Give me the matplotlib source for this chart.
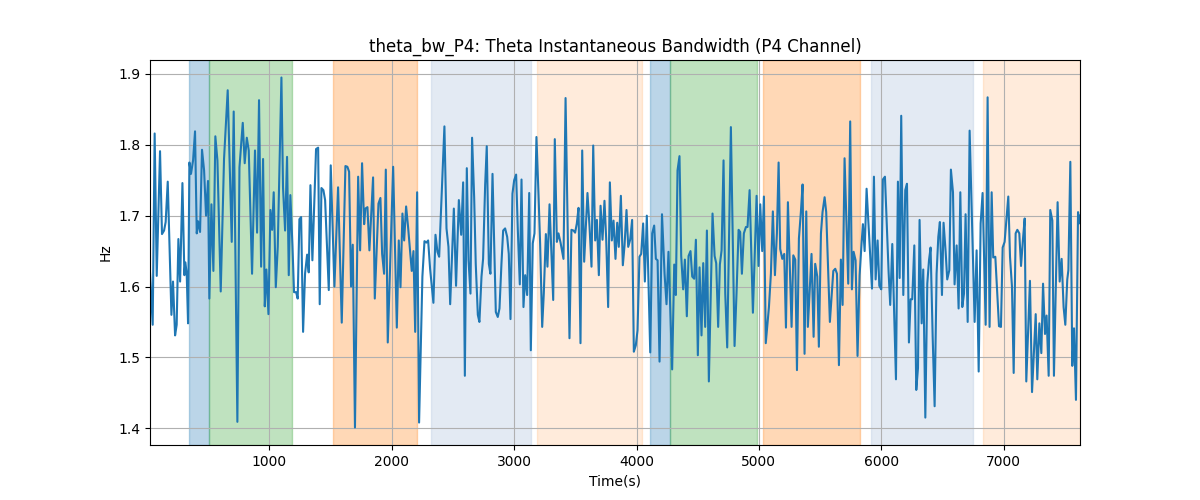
import numpy as np
import matplotlib
matplotlib.use("Agg")
import matplotlib.pyplot as plt

# time (s) of the turning points
time_s = [24, 46, 62, 79, 106, 122, 139, 152, 169, 199, 212, 229, 242, 256, 270, 289, 305, 313, 324, 335,
          346, 359, 376, 392, 406, 417, 433, 449, 466, 482, 498, 509, 526, 542, 558, 575, 602, 629, 659, 692,
          708, 738, 755, 782, 798, 815, 831, 858,
          882, 899, 915, 932, 948, 962, 975, 992, 1008, 1022, 1035, 1052, 1068, 1098, 1111, 1128, 1144, 1158,
          1171, 1188, 1201, 1218, 1231, 1245, 1259, 1275, 1291, 1308, 1321, 1335, 1351, 1381, 1398, 1411, 1425,
          1441, 1455, 1485, 1501, 1531, 1561, 1591, 1621, 1637, 1651, 1667, 1681, 1699,
          1725, 1741, 1757, 1774, 1784, 1801, 1817, 1847, 1861, 1891, 1907, 1921, 1937, 1951, 1967, 2011, 2041,
          2057, 2071, 2087, 2101, 2117, 2133, 2163, 2177, 2191, 2207, 2223, 2250, 2267, 2283, 2297, 2313, 2340,
          2357, 2373, 2387, 2430, 2447, 2463, 2477, 2507, 2525,
          2548, 2567, 2583, 2597, 2613, 2627, 2643, 2656, 2673, 2686, 2703, 2716, 2733, 2746, 2763, 2776, 2793,
          2806, 2823, 2850, 2866, 2880, 2896, 2910, 2926, 2943, 2956, 2970, 2986, 3000, 3016, 3030, 3046, 3060,
          3076, 3090, 3106, 3123, 3136, 3152, 3166, 3182, 3199, 3212, 3229, 3242, 3259, 3272, 3289, 3319, 3332,
          3349, 3362, 3379,
          3403, 3420, 3452, 3468, 3485, 3498, 3512, 3526, 3542, 3556, 3572, 3599, 3616, 3632, 3646, 3662, 3676,
          3692, 3706, 3722, 3738, 3752, 3768, 3782, 3798, 3812, 3828, 3842, 3855, 3872, 3888, 3902, 3918, 3932,
          3948, 3964, 3978, 3994, 4008, 4024, 4038, 4054, 4068, 4084, 4112, 4128, 4144, 4158, 4172, 4188, 4208,
          4229, 4245, 4261, 4278, 4291, 4308, 4321, 4335, 4351, 4365, 4381, 4395, 4411, 4425, 4441, 4455, 4471,
          4485, 4501, 4515, 4531, 4545, 4561, 4575, 4591, 4621, 4638, 4651, 4667, 4681, 4695, 4711, 4725, 4741,
          4771, 4801, 4817, 4834, 4847, 4861, 4877, 4894, 4907, 4924, 4951, 4981, 4997, 5011, 5027, 5041, 5056,
          5082, 5098, 5114, 5131, 5147, 5161, 5174, 5191, 5207, 5221, 5237, 5251, 5267, 5281, 5297, 5311, 5327,
          5343, 5357, 5373, 5387, 5400, 5430, 5447, 5460, 5477, 5490, 5507, 5520, 5537, 5550, 5580, 5608, 5624,
          5638, 5654, 5670, 5684, 5700, 5730, 5746, 5760, 5774, 5790, 5806, 5823, 5839, 5850, 5864, 5880,
          5924, 5940, 5954, 5970, 5984, 6000, 6013, 6030, 6060, 6073, 6090, 6120, 6136, 6150, 6163, 6180, 6196,
          6210, 6226, 6240, 6253, 6270, 6286, 6300, 6313, 6330, 6343, 6360, 6376, 6390, 6403, 6420, 6436, 6452,
          6466, 6479, 6496, 6509, 6526, 6539, 6556, 6569, 6586, 6599, 6616, 6632, 6646, 6662, 6676, 6689, 6706,
          6722,
          6763, 6779, 6796, 6812, 6828, 6853, 6869, 6885, 6902, 6915, 6932, 6962, 6978, 6992, 7008, 7038, 7052,
          7068, 7082, 7098, 7112, 7128, 7142, 7158, 7172, 7185, 7215, 7232, 7262, 7275, 7292, 7308, 7322, 7338,
          7351, 7368, 7381, 7398, 7411, 7441, 7458, 7474, 7490, 7504, 7520, 7529, 7545, 7561, 7575, 7591, 7608,
          7616, 7624]

bw_hz = [1.620, 1.546, 1.816, 1.615, 1.791, 1.674, 1.679, 1.691, 1.748, 1.560, 1.607, 1.531, 1.546, 1.667,
         1.607, 1.746, 1.616, 1.634, 1.618, 1.548, 1.775, 1.759, 1.778, 1.819, 1.675, 1.692, 1.677, 1.793,
         1.764, 1.700, 1.749, 1.583, 1.716, 1.622, 1.812, 1.778, 1.593, 1.780, 1.877, 1.663, 1.847, 1.409,
         1.768, 1.831, 1.774, 1.810, 1.792, 1.618,
         1.792, 1.676, 1.863, 1.628, 1.780, 1.572, 1.624, 1.561, 1.708, 1.680, 1.733, 1.599, 1.656, 1.895,
         1.740, 1.679, 1.783, 1.616, 1.729, 1.658, 1.592, 1.592, 1.583, 1.695, 1.698, 1.536, 1.618, 1.645,
         1.620, 1.743, 1.637, 1.794, 1.796, 1.575, 1.739, 1.736, 1.722, 1.595, 1.771, 1.600, 1.740, 1.549,
         1.770, 1.769, 1.762, 1.600, 1.659, 1.401,
         1.755, 1.651, 1.774, 1.688, 1.710, 1.712, 1.651, 1.754, 1.583, 1.717, 1.725, 1.646, 1.618, 1.765,
         1.521, 1.769, 1.542, 1.665, 1.599, 1.703, 1.665, 1.713, 1.684, 1.622, 1.650, 1.536, 1.733, 1.408,
         1.614, 1.664, 1.662, 1.665, 1.625, 1.577, 1.673, 1.649, 1.642, 1.826, 1.682, 1.656, 1.575, 1.710,
         1.601,
         1.722, 1.673, 1.747, 1.474, 1.767, 1.637, 1.590, 1.810, 1.726, 1.632, 1.560, 1.550, 1.614, 1.639,
         1.744, 1.798, 1.632, 1.618, 1.759, 1.564, 1.557, 1.569, 1.632, 1.679, 1.682, 1.670, 1.646, 1.554,
         1.731, 1.750, 1.758, 1.679, 1.603, 1.751, 1.571, 1.616, 1.588, 1.732, 1.510, 1.661, 1.675, 1.811,
         1.729, 1.661, 1.543, 1.590, 1.674, 1.628, 1.716, 1.581, 1.808, 1.663, 1.675, 1.662,
         1.639, 1.866, 1.527, 1.680, 1.679, 1.676, 1.689, 1.711, 1.520, 1.792, 1.635, 1.732, 1.684, 1.628,
         1.799, 1.665, 1.694, 1.616, 1.714, 1.666, 1.721, 1.667, 1.571, 1.747, 1.665, 1.693, 1.639, 1.690,
         1.656, 1.728, 1.630, 1.658, 1.708, 1.656, 1.666, 1.694, 1.508, 1.517, 1.538, 1.642, 1.646, 1.689,
         1.607, 1.700, 1.507, 1.675, 1.686, 1.639, 1.637, 1.494, 1.702,
         1.618, 1.575, 1.649, 1.553, 1.483, 1.631, 1.588, 1.764, 1.784, 1.643, 1.596, 1.638, 1.558, 1.643,
         1.650, 1.614, 1.611, 1.666, 1.503, 1.627, 1.531, 1.633, 1.543, 1.679, 1.466, 1.703, 1.643, 1.633,
         1.543, 1.631, 1.651, 1.778, 1.590, 1.514, 1.825, 1.516, 1.590, 1.680, 1.677, 1.618, 1.675, 1.684,
         1.684, 1.736, 1.563, 1.728, 1.629, 1.716, 1.650, 1.727, 1.520,
         1.571, 1.618, 1.706, 1.616, 1.675, 1.775, 1.653, 1.639, 1.646, 1.542, 1.719, 1.637, 1.543, 1.644,
         1.638, 1.482, 1.668, 1.705, 1.744, 1.505, 1.706, 1.543, 1.646, 1.529, 1.632, 1.614, 1.515, 1.675,
         1.705, 1.726, 1.705, 1.550, 1.622, 1.625, 1.618, 1.489, 1.638, 1.574, 1.781, 1.604, 1.833, 1.596,
         1.649, 1.637, 1.502, 1.616, 1.661, 1.688, 1.650, 1.738,
         1.597, 1.755, 1.610, 1.665, 1.601, 1.596, 1.751, 1.755, 1.620, 1.574, 1.660, 1.469, 1.748, 1.612,
         1.841, 1.588, 1.736, 1.745, 1.521, 1.582, 1.582, 1.658, 1.454, 1.485, 1.694, 1.548, 1.624, 1.415,
         1.604, 1.637, 1.655, 1.529, 1.431, 1.618, 1.670, 1.691, 1.588, 1.690, 1.649, 1.610, 1.623, 1.765,
         1.733, 1.603, 1.658, 1.569, 1.733, 1.571, 1.590, 1.702, 1.550, 1.820,
         1.550, 1.651, 1.480, 1.689, 1.732, 1.546, 1.867, 1.543, 1.733, 1.641, 1.642, 1.544, 1.543, 1.655,
         1.663, 1.727, 1.642, 1.600, 1.478, 1.675, 1.680, 1.675, 1.629, 1.667, 1.696, 1.466, 1.608, 1.451,
         1.561, 1.469, 1.548, 1.506, 1.604, 1.533, 1.559, 1.474, 1.708, 1.693, 1.474, 1.719, 1.607, 1.639,
         1.571, 1.546, 1.610, 1.623, 1.776, 1.488, 1.541, 1.440, 1.705, 1.689, 1.700]

# shaded segments: (start, end, colour, alpha)
seg_start = [346, 509, 1523, 2324, 3190, 4107, 4270, 5030, 5912, 6828]
seg_end = [509, 1188, 2210, 3141, 4048, 4270, 4981, 5823, 6746, 7624]
seg_color = ["tab:blue", "tab:green", "tab:orange", "#b0c4de", "tab:orange",
             "tab:blue", "tab:green", "tab:orange", "#b0c4de", "tab:orange"]
seg_alpha = [0.3, 0.3, 0.3, 0.35, 0.15, 0.3, 0.3, 0.3, 0.35, 0.15]

t = np.array(time_s)
bw = np.array(bw_hz)

fig, ax = plt.subplots(figsize=(12, 5), dpi=100)

for s, e, c, a in zip(seg_start, seg_end, seg_color, seg_alpha):
    ax.axvspan(s, e, color=c, alpha=a)

ax.plot(t, bw, color="tab:blue", linewidth=1.5)

ax.set_xlim(t.min(), t.max())
ax.set_title("theta_bw_P4: Theta Instantaneous Bandwidth (P4 Channel)")
ax.set_xlabel("Time(s)")
ax.set_ylabel("Hz")
ax.grid(True)

plt.savefig("out.png")
